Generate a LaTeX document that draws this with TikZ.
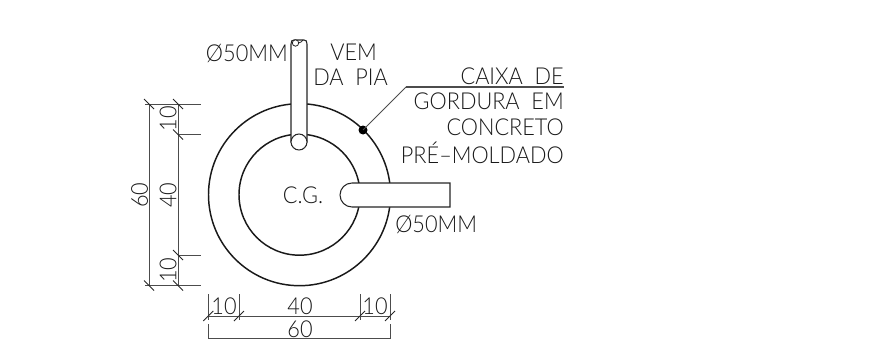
\documentclass[tikz,border=0pt]{standalone}
\usepackage{fontspec}
\setmainfont{Lato}[UprightFont=* Light,FakeStretch=0.93]
\tikzset{
  wall/.style={line width=1.1pt,color=black!90},
  pipe/.style={line width=0.8pt,color=black!85,fill=white},
  dimline/.style={line width=0.65pt,color=black!70},
  tick/.style={line width=0.65pt,color=black!85},
  label/.style={inner sep=0pt,color=black!90,font=\fontsize{17.5pt}{19pt}\selectfont},
}
\begin{document}
\begin{tikzpicture}[x=0.75pt,y=0.75pt,yscale=-1,xscale=1]
\useasboundingbox (0,0) rectangle (890,339);

% Walls
\coordinate (center) at (299.500,194.700);
\draw [wall] (center) circle [radius=91];
\draw [wall] (center) circle [radius=60.500];

% Pipes
\draw [pipe] (291,142) -- (291,44) .. controls (291,41) and (292,40) .. (294,40) -- (304,40) .. controls (306,40) and (307,41) .. (307,44) -- (307,142) -- cycle;
\draw [pipe] (299,142) circle [radius=8];
\draw [pipe,line width=0.6pt] (295.500,43) circle [radius=3.2];
\draw [pipe,line width=0.6pt,fill=none] (298.500,43) .. controls (301,43) and (302,41) .. (303,40);
\draw [pipe] (450,183) -- (352,183) arc [start angle=270,end angle=90,radius=12] -- (450,207) -- cycle;

% Leader
\coordinate (box) at (363,130);
\coordinate (knee) at (406,87);
\coordinate (shelf) at (564,87);
\fill [black] (box) circle [radius=4.500];
\draw [dimline] (box) -- (knee);
\draw [dimline,line width=0.9pt] (knee) -- (shelf);

% Left dimensions
\draw [dimline] (149,104) -- (149,285.500);
\draw [dimline] (178,104) -- (178,285.500);
\draw [dimline] (145,104) -- (201,104);
\draw [dimline] (178,134.500) -- (201,134.500);
\draw [dimline] (178,255) -- (201,255);
\draw [dimline] (145,285.500) -- (201,285.500);
\foreach \ya in {104,285.500} {
  \draw [tick] (144,\ya-5) -- (154,\ya+5);
}
\foreach \yb in {104,134.500,255,285.500} {
  \draw [tick] (173,\yb-5) -- (183,\yb+5);
}

% Bottom dimensions
\draw [dimline] (208.300,294) -- (208.300,320);
\draw [dimline] (239,294) -- (239,320);
\draw [dimline] (360,294) -- (360,320);
\draw [dimline] (390,294) -- (390,320);
\draw [dimline] (208.300,316) -- (390,316);
\draw [dimline] (208.300,324) -- (208.300,339);
\draw [dimline] (390,324) -- (390,339);
\draw [dimline] (208.300,338) -- (390,338);
\foreach \xa in {208.300,239,360,390} {
  \draw [tick] (\xa-5,321) -- (\xa+5,311);
}

% Text Node
\node (topsize) [label,anchor=east] at (288,53) {Ø50MM};
\node (vem) [label,anchor=west] at (330,52) {VEM};
\node (dapia) [label,anchor=west] at (313,77) {DA\ \ PIA};
\node (caixa) [label,anchor=east] at (564,76) {CAIXA\ \ DE};
\node (gordura) [label,anchor=east] at (564,101) {GORDURA\ \ EM};
\node (concreto) [label,anchor=east] at (564,127) {CONCRETO};
\node (moldado) [label,anchor=east] at (564,153) {PRÉ–MOLDADO};
\node (cg) [label,anchor=center] at (303,195) {C.G.};
\node (sidesize) [label,anchor=west] at (395,224) {Ø50MM};
\node (dimsixty) [label,anchor=center,rotate=90] at (139.500,195) {60};
\node (dimtopten) [label,anchor=center,rotate=90] at (168,118.500) {10};
\node (dimforty) [label,anchor=center,rotate=90] at (168,195) {40};
\node (dimbotten) [label,anchor=center,rotate=90] at (168,270) {10};
\node (dimleftten) [label,anchor=center] at (224,306.500) {10};
\node (dimmidforty) [label,anchor=center] at (300,306.500) {40};
\node (dimrightten) [label,anchor=center] at (375,306.500) {10};
\node (dimbottom) [label,anchor=center] at (300,329) {60};

\end{tikzpicture}
\end{document}
